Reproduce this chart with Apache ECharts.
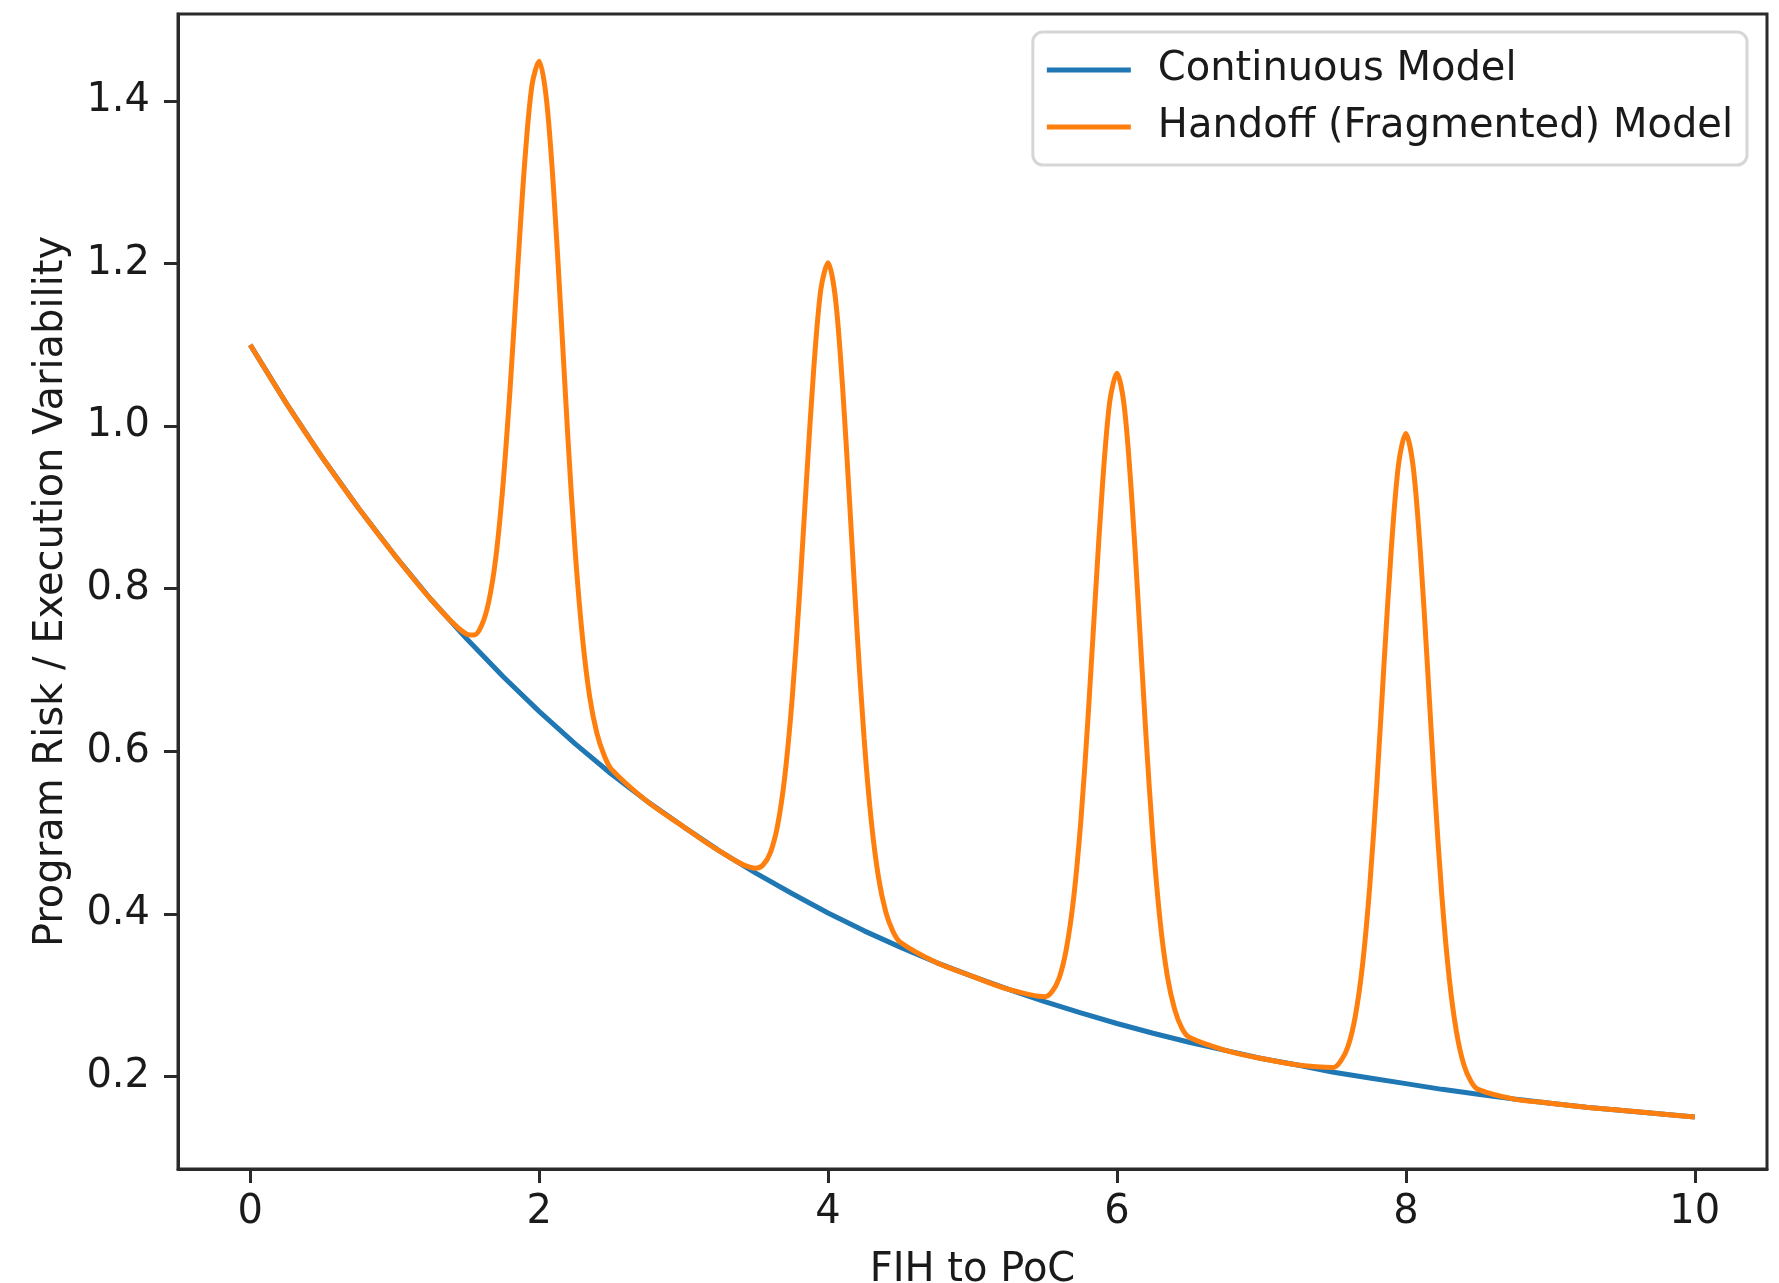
<!DOCTYPE html>
<html>
<head>
<meta charset="utf-8">
<script src="https://cdn.jsdelivr.net/npm/echarts@6/dist/echarts.min.js"></script>
<style>
  html, body { margin: 0; padding: 0; background: #ffffff; }
  #chart { width: 1779px; height: 1283px; }
</style>
</head>
<body>
<div id="chart"></div>
<script>
// ---- data ----
const continuousX = [0,0.25,0.5,0.75,1,1.25,1.5,1.75,2,2.25,2.5,2.75,3,3.25,3.5,3.75,4,4.25,4.5,4.75,5,5.25,5.5,5.75,6,6.25,6.5,6.75,7,7.25,7.5,7.75,8,8.25,8.5,8.75,9,9.25,9.5,9.75,10];
const continuousY = [1.100,1.028,0.961,0.899,0.841,0.787,0.738,0.692,0.649,0.609,0.572,0.538,0.507,0.477,0.450,0.425,0.401,0.379,0.359,0.340,0.323,0.307,0.292,0.278,0.265,0.253,0.242,0.232,0.222,0.214,0.205,0.198,0.191,0.184,0.178,0.172,0.167,0.162,0.158,0.154,0.150];

const handoffX = [
  0,0.25,0.5,0.75,1,1.25,
  1.5,1.55,1.6,1.65,1.7,1.75,1.8,1.85,1.9,1.95,2,2.05,2.1,2.15,2.2,2.25,2.3,2.35,2.4,2.45,2.5,
  2.75,3,3.25,
  3.5,3.55,3.6,3.65,3.7,3.75,3.8,3.85,3.9,3.95,4,4.05,4.1,4.15,4.2,4.25,4.3,4.35,4.4,4.45,4.5,
  4.75,5,5.25,
  5.5,5.55,5.6,5.65,5.7,5.75,5.8,5.85,5.9,5.95,6,6.05,6.1,6.15,6.2,6.25,6.3,6.35,6.4,6.45,6.5,
  6.75,7,7.25,
  7.5,7.55,7.6,7.65,7.7,7.75,7.8,7.85,7.9,7.95,8,8.05,8.1,8.15,8.2,8.25,8.3,8.35,8.4,8.45,8.5,
  8.75,9,9.25,9.5,9.75,10
];
const handoffY = [
  1.100,1.028,0.961,0.899,0.841,0.787,
  0.744,0.743,0.754,0.783,0.838,0.928,1.049,1.190,1.324,1.419,1.449,1.403,1.291,1.141,0.983,0.845,0.740,0.667,0.622,0.595,0.578,
  0.538,0.507,0.477,
  0.456,0.460,0.475,0.508,0.568,0.661,0.786,0.931,1.068,1.168,1.201,1.159,1.050,0.904,0.750,0.615,0.513,0.444,0.402,0.378,0.365,
  0.340,0.323,0.307,
  0.298,0.304,0.321,0.357,0.419,0.514,0.642,0.789,0.928,1.030,1.065,1.025,0.918,0.774,0.622,0.489,0.389,0.322,0.282,0.259,0.248,
  0.232,0.222,0.214,
  0.211,0.219,0.237,0.274,0.337,0.434,0.562,0.711,0.851,0.954,0.991,0.951,0.846,0.703,0.551,0.420,0.321,0.255,0.215,0.194,0.184,
  0.172,0.167,0.162,0.158,0.154,0.150
];

const xTicks = [0, 2, 4, 6, 8, 10];
const yTicks = [0.2, 0.4, 0.6, 0.8, 1.0, 1.2, 1.4];

const seriesNames = ['Continuous Model', 'Handoff (Fragmented) Model'];
const seriesColors = ['#1f77b4', '#ff7f0e'];
const xAxisTitle = 'FIH to PoC';
const yAxisTitle = 'Program Risk / Execution Variability';

// ---- chart ----
const zip = (xs, ys) => xs.map((x, i) => [x, ys[i]]);
const FONT = 'DejaVu Sans';
const TXT = '#1a1a1a';
const AX = '#2a2a2a';

const chart = echarts.init(document.getElementById('chart'), null, { renderer: 'canvas' });
chart.setOption({
  animation: false,
  backgroundColor: '#ffffff',
  grid: {
    left: 178, right: 12, top: 14, bottom: 114,
    containLabel: false,
    outerBoundsMode: 'none',
    show: true,
    borderColor: AX,
    borderWidth: 3,
    backgroundColor: 'transparent'
  },
  legend: {
    orient: 'vertical',
    right: 32,
    top: 32,
    icon: 'rect',
    itemWidth: 84,
    itemHeight: 5,
    itemGap: 17,
    padding: [18, 14, 18, 14],
    backgroundColor: 'rgba(255,255,255,0.85)',
    borderColor: '#d6d6d6',
    borderWidth: 3,
    borderRadius: 10,
    textStyle: { fontFamily: FONT, fontSize: 40, color: TXT, padding: [0, 0, 0, 22] },
    data: seriesNames
  },
  xAxis: {
    type: 'value',
    min: -0.5,
    max: 10.5,
    name: xAxisTitle,
    nameLocation: 'middle',
    nameGap: 82,
    nameTextStyle: { fontFamily: FONT, fontSize: 40, color: TXT },
    axisLine: { show: true, onZero: false, lineStyle: { color: AX, width: 3 } },
    axisTick: { show: true, length: 14, customValues: xTicks, lineStyle: { color: AX, width: 3 } },
    axisLabel: {
      customValues: xTicks,
      fontFamily: FONT, fontSize: 40, color: TXT, margin: 24,
      formatter: v => String(v)
    },
    splitLine: { show: false }
  },
  yAxis: {
    type: 'value',
    min: 0.086,
    max: 1.507,
    name: yAxisTitle,
    nameLocation: 'middle',
    nameGap: 106,
    nameTextStyle: { fontFamily: FONT, fontSize: 40, color: TXT },
    axisLine: { show: true, onZero: false, lineStyle: { color: AX, width: 3 } },
    axisTick: { show: true, length: 14, customValues: yTicks, lineStyle: { color: AX, width: 3 } },
    axisLabel: {
      customValues: yTicks,
      fontFamily: FONT, fontSize: 40, color: TXT, margin: 28,
      formatter: v => Number(v).toFixed(1)
    },
    splitLine: { show: false }
  },
  series: [
    {
      name: seriesNames[0],
      type: 'line',
      data: zip(continuousX, continuousY),
      showSymbol: false,
      symbol: 'none',
      color: seriesColors[0],
      lineStyle: { color: seriesColors[0], width: 5 },
      z: 2
    },
    {
      name: seriesNames[1],
      type: 'line',
      data: zip(handoffX, handoffY),
      showSymbol: false,
      symbol: 'none',
      smooth: 0.3,
      color: seriesColors[1],
      lineStyle: { color: seriesColors[1], width: 5 },
      z: 3
    }
  ]
});
</script>
</body>
</html>
